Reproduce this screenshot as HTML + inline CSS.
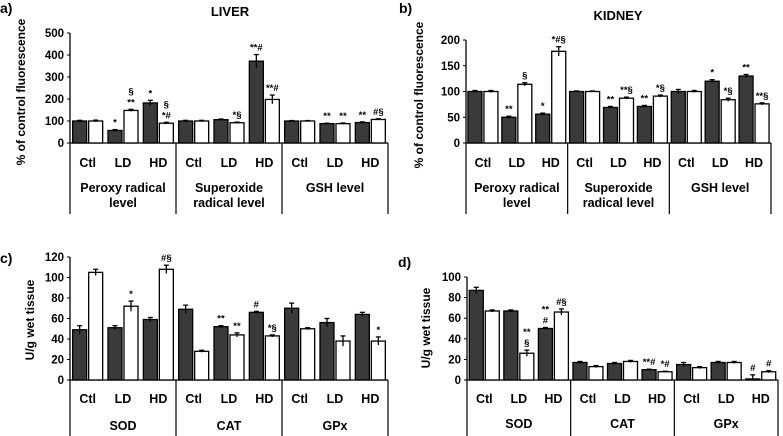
<!DOCTYPE html>
<html><head><meta charset="utf-8"><style>
body{margin:0;background:#fff;}
svg{display:block;font-family:"Liberation Sans",sans-serif;font-weight:bold;}
</style></head><body>
<svg id="fig" width="783" height="436" viewBox="0 0 783 436"></svg>
<script>
const groups = ["Ctl","LD","HD"];
// Panel a: liver fluorescence
const aSections = ["Peroxy radical|level","Superoxide|radical level","GSH level"];
const aDark = [100,57,182, 100,106,372, 100,88,93];
const aWhite = [100,148,90, 100,92,198, 100,88,107];
const aDarkErr = [3,4,12, 3,3,30, 2,2,3];
const aWhiteErr = [4,5,4, 3,3,20, 2,3,3];
const aDarkAnn = ["","*","*", "","","**#", "","**","**"];
const aWhiteAnn = ["","§|**","§|*#", "","*§","**#", "","**","#§"];
const aTicks = [0,100,200,300,400,500];
// Panel b: kidney fluorescence
const bSections = ["Peroxy radical|level","Superoxide|radical level","GSH level"];
const bDark = [100,50,56, 100,69,71, 100,120,130];
const bWhite = [100,114,178, 100,87,91, 100,84,76];
const bDarkErr = [2,2,2, 1,2,2, 4,3,3];
const bWhiteErr = [2,3,9, 1,2,2, 2,3,2];
const bDarkAnn = ["","**","*", "","**","**", "","*","**"];
const bWhiteAnn = ["","§","*#§", "","**§","*§", "","*§","**§"];
const bTicks = [0,50,100,150,200];
// Panel c: liver enzymes
const cSections = ["SOD","CAT","GPx"];
const cDark = [49,51,59, 69,52,66, 70,56,64];
const cWhite = [105,72,108, 28,44,43, 50,38,38];
const cDarkErr = [4,2,2, 4,1,1, 5,4,2];
const cWhiteErr = [3,5,4, 1,2,1, 1,5,4];
const cDarkAnn = ["","","", "","**","#", "","",""];
const cWhiteAnn = ["","*","#§", "","**","*§", "","","*"];
const cTicks = [0,20,40,60,80,100,120];
// Panel d: kidney enzymes
const dSections = ["SOD","CAT","GPx"];
const dDark = [87,67,50, 17,16,10, 15,17,1];
const dWhite = [67,26,66, 13,18,8, 12,17,8];
const dDarkErr = [3,1,1, 1,1,0.5, 2,1,4];
const dWhiteErr = [1,3,3, 1,1,0.5, 1,1,1];
const dDarkAnn = ["","","**|#", "","","**#", "","","#"];
const dWhiteAnn = ["","**|§","#§", "","","*#", "","","#"];
const dTicks = [0,20,40,60,80,100];

const NS="http://www.w3.org/2000/svg";
const svg=document.getElementById('fig');
function mk(tag,attrs,parent){const e=document.createElementNS(NS,tag);for(const k in attrs)e.setAttribute(k,attrs[k]);(parent||svg).appendChild(e);return e;}
function txt(s,x,y,size,anchor,parent){const t=mk('text',{x:x,y:y,'font-size':size,'text-anchor':anchor||'middle',fill:'#000'},parent);t.textContent=s;return t;}

function panel(p){
  const g=mk('g',{});
  
  
  const yS=v=>p.y0-(v/p.max)*(p.y0-p.yTop);
  const ax=mk('line',{x1:p.x0,y1:p.yTop,x2:p.x0,y2:p.y0,stroke:'#000','stroke-width':1.3},g);
  
  
  p.ticks.forEach(t=>{
    const y=yS(t);
    mk('line',{x1:p.x0-3,y1:y,x2:p.x0,y2:y,stroke:'#000','stroke-width':1},g);
    const tl=txt(String(t),p.x0-6,y+4,11.5,'end',g);
    
    
  });
  const xa=mk('line',{x1:p.x0,y1:p.y0,x2:p.x1,y2:p.y0,stroke:'#000','stroke-width':1.3},g);
  
  
  const secW=(p.x1-p.x0)/3, grpW=secW/3;
  for(let s=0;s<=3;s++){
    const x=p.x0+s*secW;
    mk('line',{x1:x,y1:p.y0,x2:x,y2:p.tableBottom,stroke:'#000','stroke-width':1.2},g);
  }
  p.sections.forEach((sec,s)=>{
    const cx=p.x0+(s+0.5)*secW;
    const lines=sec.split('|');
    lines.forEach((ln,i)=>{
      const t=txt(ln,cx,p.secY+i*15,12.5,'middle',g);
      
      
    });
  });
  for(let i=0;i<9;i++){
    const c=p.x0+(i+0.5)*grpW;
    const gl=txt(groups[i%3],c,p.grpY,12.5,'middle',g);
    
    
    [[p.dark,p.darkErr,p.darkAnn,c-15,'#3a3a3a','dark'],[p.white,p.whiteErr,p.whiteAnn,c+1,'#fff','white']].forEach(([vals,errs,anns,bx,fill,kind])=>{
      const v=vals[i], y=yS(v);
      const r=mk('rect',{x:bx,y:y,width:14,height:Math.max(0,p.y0-y),fill:fill,stroke:'#000','stroke-width':1.3},g);
      
      
      const e=errs[i], yt=yS(v+e), yb=yS(Math.max(0,v-e)), mx=bx+7;
      mk('line',{x1:mx,y1:yt,x2:mx,y2:yb,stroke:'#000','stroke-width':1.3},g);
      mk('line',{x1:mx-2.5,y1:yt,x2:mx+2.5,y2:yt,stroke:'#000','stroke-width':1.3},g);
      const a=anns[i];
      if(a){
        const parts=a.split('|');
        parts.forEach((pt,k)=>{
          const t=txt(pt,mx,yt-4-(parts.length-1-k)*11,9.5,'middle',g);
          
          
        });
      }
    });
  }
  const yt=txt(p.ytitle,0,0,12,'middle',g);
  yt.setAttribute('transform','translate('+p.ytx+','+p.yty+') rotate(-90)');
  
  
  const pl=txt(p.label,p.lx,p.ly,14,'start',g);
  
  
  if(p.title){
    const tt=txt(p.title,p.tx,p.ty,13,'middle',g);
    
    
  }
}

panel({name:'panel-a-liver',x0:70,x1:388,y0:143,yTop:33,max:500,ticks:aTicks,sections:aSections,dark:aDark,white:aWhite,darkErr:aDarkErr,whiteErr:aWhiteErr,darkAnn:aDarkAnn,whiteAnn:aWhiteAnn,grpY:167,secY:192,tableBottom:214,ytitle:'% of control fluorescence',ytx:25,yty:92,label:'a)',lx:0,ly:13,title:'LIVER',tx:230,ty:16});
panel({name:'panel-b-kidney',x0:466,x1:771,y0:143,yTop:40,max:200,ticks:bTicks,sections:bSections,dark:bDark,white:bWhite,darkErr:bDarkErr,whiteErr:bWhiteErr,darkAnn:bDarkAnn,whiteAnn:bWhiteAnn,grpY:167,secY:192,tableBottom:214,ytitle:'% of control fluorescence',ytx:423,yty:95,label:'b)',lx:399,ly:13,title:'KIDNEY',tx:618,ty:20});
panel({name:'panel-c-liver-enzymes',x0:70,x1:388,y0:380,yTop:257,max:120,ticks:cTicks,sections:cSections,dark:cDark,white:cWhite,darkErr:cDarkErr,whiteErr:cWhiteErr,darkAnn:cDarkAnn,whiteAnn:cWhiteAnn,grpY:403,secY:430,tableBottom:436,ytitle:'U/g wet tissue',ytx:34,yty:320,label:'c)',lx:0,ly:263,title:null});
panel({name:'panel-d-kidney-enzymes',x0:467,x1:778,y0:380,yTop:277,max:100,ticks:dTicks,sections:dSections,dark:dDark,white:dWhite,darkErr:dDarkErr,whiteErr:dWhiteErr,darkAnn:dDarkAnn,whiteAnn:dWhiteAnn,grpY:403,secY:428,tableBottom:436,ytitle:'U/g wet tissue',ytx:430,yty:328,label:'d)',lx:398,ly:267,title:null});
</script>
</body></html>
